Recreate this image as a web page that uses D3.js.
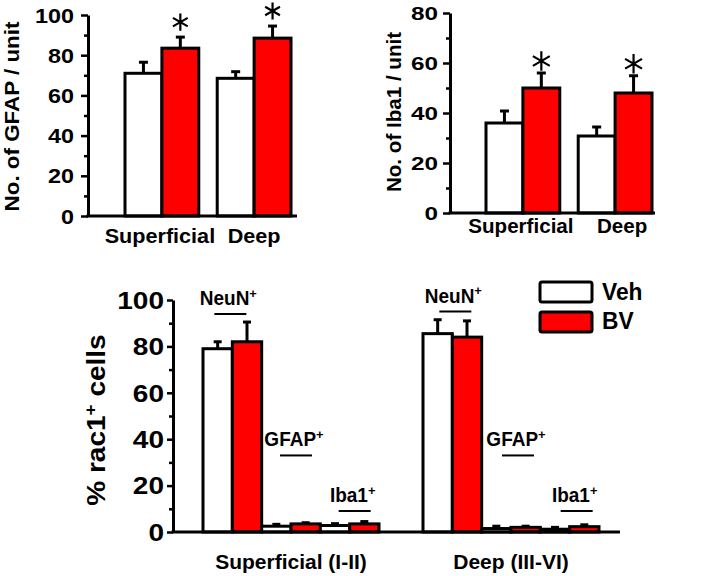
<!DOCTYPE html>
<html><head><meta charset="utf-8">
<script src="https://cdn.jsdelivr.net/npm/d3@7"></script>
<style>
body{margin:0;background:#fff}
text{font-family:"Liberation Sans",Arial,sans-serif;font-weight:bold;fill:#000}
</style>
</head><body>
<svg id="chart" width="709" height="576"></svg>
<script>
// ---------- data ----------
const regions = ["Superficial", "Deep"];
const treatments = ["Veh", "BV"];
const treatmentColors = ["#ffffff", "#ff0000"];

const gfapVeh = [71, 68.5];
const gfapVehErr = [5.5, 3.3];
const gfapBV = [83.5, 88.5];
const gfapBVErr = [5.5, 6];
const gfapSig = [true, true];
const gfapTicks = [0, 20, 40, 60, 80, 100];
const gfapMinor = [10, 30, 50, 70, 90];

const iba1Veh = [36, 30.8];
const iba1VehErr = [4.8, 3.6];
const iba1BV = [50, 48];
const iba1BVErr = [6, 6.9];
const iba1Sig = [true, true];
const iba1Ticks = [0, 20, 40, 60, 80];
const iba1Minor = [10, 30, 50, 70];

const layers = ["Superficial (I-II)", "Deep (III-VI)"];
const markers = ["NeuN", "GFAP", "Iba1"];
const rac1Veh = [[79, 2.5, 2.8], [85.5, 1.5, 1.2]];
const rac1VehErr = [[3, 0.8, 0.8], [6, 1, 0.8]];
const rac1BV = [[82, 3.5, 3.5], [84, 2.0, 2.3]];
const rac1BVErr = [[8.5, 0.5, 1], [7, 0.5, 0.8]];
const rac1Ticks = [0, 20, 40, 60, 80, 100];
const rac1Minor = [10, 30, 50, 70, 90];

// ---------- helpers ----------
const svg = d3.select("#chart");

function addText(g, x, y, str, size, sx, anchor, rot) {
  return g.append("text")
    .attr("transform", `translate(${x},${y}) rotate(${rot || 0}) scale(${sx},1)`)
    .attr("text-anchor", anchor || "middle")
    .style("font-size", size + "px")
    .text(str);
}
function addSupText(g, x, y, main, sup, tail, size, sx, anchor, rot) {
  const t = g.append("text")
    .attr("transform", `translate(${x},${y}) rotate(${rot || 0}) scale(${sx},1)`)
    .attr("text-anchor", anchor || "middle")
    .style("font-size", size + "px");
  t.append("tspan").text(main);
  t.append("tspan").attr("dy", -size * 0.36).style("font-size", (size * 0.68) + "px").text(sup);
  if (tail) t.append("tspan").attr("dy", size * 0.36).text(tail);
  return t;
}
function drawYAxis(g, y, ticks, minor, axisX, cfg) {
  const ax = g.append("g").attr("transform", `translate(${axisX},0)`)
    .call(d3.axisLeft(y).tickValues(ticks).tickSize(cfg.tick).tickSizeOuter(0));
  ax.select(".domain").attr("stroke-width", 3).attr("stroke", "#000");
  ax.selectAll(".tick line").attr("stroke-width", 2.5).attr("stroke", "#000");
  ax.selectAll(".tick text")
    .attr("x", null).attr("dy", "0.36em")
    .attr("transform", `translate(${-cfg.gap},0) scale(${cfg.sx},1)`)
    .style("font-size", cfg.size + "px")
    .style("font-family", '"Liberation Sans",Arial,sans-serif')
    .style("font-weight", "bold")
    .attr("fill", "#000");
  const mi = g.append("g").attr("transform", `translate(${axisX},0)`)
    .call(d3.axisLeft(y).tickValues(minor).tickSize(4).tickSizeOuter(0).tickFormat(""));
  mi.select(".domain").remove();
  mi.selectAll(".tick line").attr("stroke-width", 2.5).attr("stroke", "#000");
}
function errorBar(g, cx, yTop, yBase, capW) {
  g.append("line").attr("x1", cx).attr("x2", cx).attr("y1", yBase).attr("y2", yTop)
    .attr("stroke", "#000").attr("stroke-width", 3);
  g.append("line").attr("x1", cx - capW / 2).attr("x2", cx + capW / 2).attr("y1", yTop).attr("y2", yTop)
    .attr("stroke", "#000").attr("stroke-width", 3);
}
const asteriskType = d3.symbolAsterisk || d3.symbolCross;

// ---------- top panels ----------
function topPanel(cfg) {
  const g = svg.append("g");
  const y = d3.scaleLinear().domain([0, cfg.max]).range([cfg.y0, cfg.y1]);
  const x = d3.scaleBand().domain(regions).range([cfg.b0, cfg.b1]).paddingInner(0.2);
  const xi = d3.scaleBand().domain(treatments).range([0, x.bandwidth()]);
  const rows = [];
  regions.forEach((r, i) => {
    rows.push({ r, t: "Veh", v: cfg.veh[i], e: cfg.vehErr[i], sig: false });
    rows.push({ r, t: "BV", v: cfg.bv[i], e: cfg.bvErr[i], sig: cfg.sig[i] });
  });
  rows.forEach(d => {
    const cx = x(d.r) + xi(d.t) + xi.bandwidth() / 2;
    errorBar(g, cx, y(d.v + d.e), y(d.v), 9);
  });
  g.selectAll("rect.bar").data(rows).join("rect").attr("class", "bar")
    .attr("x", d => x(d.r) + xi(d.t))
    .attr("width", xi.bandwidth())
    .attr("y", d => y(d.v))
    .attr("height", d => y(0) - y(d.v))
    .attr("fill", d => treatmentColors[treatments.indexOf(d.t)])
    .attr("stroke", "#000").attr("stroke-width", 3);
  g.selectAll("path.ast").data(rows.filter(d => d.sig)).join("path").attr("class", "ast")
    .attr("d", d3.symbol(asteriskType, cfg.astSize))
    .attr("transform", d => `translate(${x(d.r) + xi(d.t) + xi.bandwidth() / 2},${y(d.v + d.e) - cfg.astGap})`)
    .attr("fill", "none").attr("stroke", "#000").attr("stroke-width", 2.2);
  drawYAxis(g, y, cfg.ticks, cfg.minor, cfg.axisX, cfg.tickCfg);
  g.append("line").attr("x1", cfg.axisX - 1.5).attr("x2", cfg.xEnd).attr("y1", y(0)).attr("y2", y(0))
    .attr("stroke", "#000").attr("stroke-width", 3);
  regions.forEach((r, i) => {
    addText(g, x(r) + x.bandwidth() / 2 + cfg.labelDx[i], cfg.labelY, r, cfg.labelSize, 1.03, "middle");
  });
  addText(g, cfg.yLabX, (cfg.y0 + cfg.y1) / 2 + cfg.yLabDy, cfg.yLabel, cfg.yLabSize, cfg.yLabSx, "middle", -90);
}

topPanel({
  max: 100, y0: 216, y1: 15, b0: 125, b1: 291, axisX: 88, xEnd: 297,
  veh: gfapVeh, vehErr: gfapVehErr, bv: gfapBV, bvErr: gfapBVErr, sig: gfapSig,
  ticks: gfapTicks, minor: gfapMinor,
  tickCfg: { tick: 7, gap: 14, size: 19.5, sx: 1.2 },
  astSize: 205, astGap: 15,
  labelDx: [-2, 0], labelY: 243, labelSize: 21,
  yLabel: "No. of GFAP / unit", yLabX: 19, yLabDy: 1, yLabSize: 20, yLabSx: 1.12
});
topPanel({
  max: 80, y0: 213, y1: 13, b0: 486, b1: 652, axisX: 450, xEnd: 655,
  veh: iba1Veh, vehErr: iba1VehErr, bv: iba1BV, bvErr: iba1BVErr, sig: iba1Sig,
  ticks: iba1Ticks, minor: iba1Minor,
  tickCfg: { tick: 7, gap: 12, size: 18, sx: 1.35 },
  astSize: 270, astGap: 12,
  labelDx: [-2, 7], labelY: 233, labelSize: 20,
  yLabel: "No. of Iba1 / unit", yLabX: 401, yLabDy: -1, yLabSize: 20, yLabSx: 1.03
});

// ---------- bottom panel ----------
(function () {
  const g = svg.append("g");
  const axisX = 173;
  const y = d3.scaleLinear().domain([0, 100]).range([532, 300]);
  const xo = d3.scaleBand().domain(layers).range([203, 599]).paddingInner(0.2);
  const keys = markers.flatMap(m => treatments.map(t => m + "|" + t));
  const xi = d3.scaleBand().domain(keys).range([0, xo.bandwidth()]);
  const rows = [];
  layers.forEach((l, li) => markers.forEach((m, mi) => {
    rows.push({ l, m, t: "Veh", v: rac1Veh[li][mi], e: rac1VehErr[li][mi] });
    rows.push({ l, m, t: "BV", v: rac1BV[li][mi], e: rac1BVErr[li][mi] });
  }));
  rows.forEach(d => {
    const cx = xo(d.l) + xi(d.m + "|" + d.t) + xi.bandwidth() / 2;
    errorBar(g, cx, y(d.v + d.e), y(d.v), 8);
  });
  g.selectAll("rect.bar").data(rows).join("rect").attr("class", "bar")
    .attr("x", d => xo(d.l) + xi(d.m + "|" + d.t))
    .attr("width", xi.bandwidth())
    .attr("y", d => y(d.v))
    .attr("height", d => y(0) - y(d.v))
    .attr("fill", d => treatmentColors[treatments.indexOf(d.t)])
    .attr("stroke", "#000").attr("stroke-width", 3);

  // marker annotations
  const levelFixed = { GFAP: 33, Iba1: 9 };
  layers.forEach((l, li) => markers.forEach((m, mi) => {
    const pairC = xo(l) + xi(m + "|Veh") + xi.bandwidth();
    const top = Math.max(rac1Veh[li][mi] + rac1VehErr[li][mi], rac1BV[li][mi] + rac1BVErr[li][mi]);
    const lvl = m === "NeuN" ? top + 3.5 : levelFixed[m];
    const cx = pairC + (m === "NeuN" ? (li === 0 ? -2 : 3) : 5 + li * 2);
    const uy = y(lvl);
    g.append("line").attr("x1", cx - 16).attr("x2", cx + 16).attr("y1", uy).attr("y2", uy)
      .attr("stroke", "#000").attr("stroke-width", 2);
    addSupText(g, cx - 2, uy - 9, m, "+", null, 20, 0.95, "middle");
  }));

  drawYAxis(g, y, rac1Ticks, rac1Minor, axisX, { tick: 6, gap: 9, size: 23, sx: 1.22 });
  g.append("line").attr("x1", axisX - 1.5).attr("x2", 620).attr("y1", y(0)).attr("y2", y(0))
    .attr("stroke", "#000").attr("stroke-width", 3);
  layers.forEach(l => addText(g, xo(l) + xo.bandwidth() / 2, 569, l, 20, 1.05, "middle"));
  addSupText(g, 105, 420, "% rac1", "+", " cells", 25, 1.12, "middle", -90);

  // legend
  const lg = g.append("g");
  treatments.forEach((t, i) => {
    lg.append("rect").attr("x", 540).attr("y", 282 + i * 30).attr("width", 52).attr("height", 20)
      .attr("rx", 2).attr("fill", treatmentColors[i]).attr("stroke", "#000").attr("stroke-width", 3);
    addText(lg, 602, 300 + i * 29, t, 24, 0.95, "start");
  });
})();
</script>
</body></html>
